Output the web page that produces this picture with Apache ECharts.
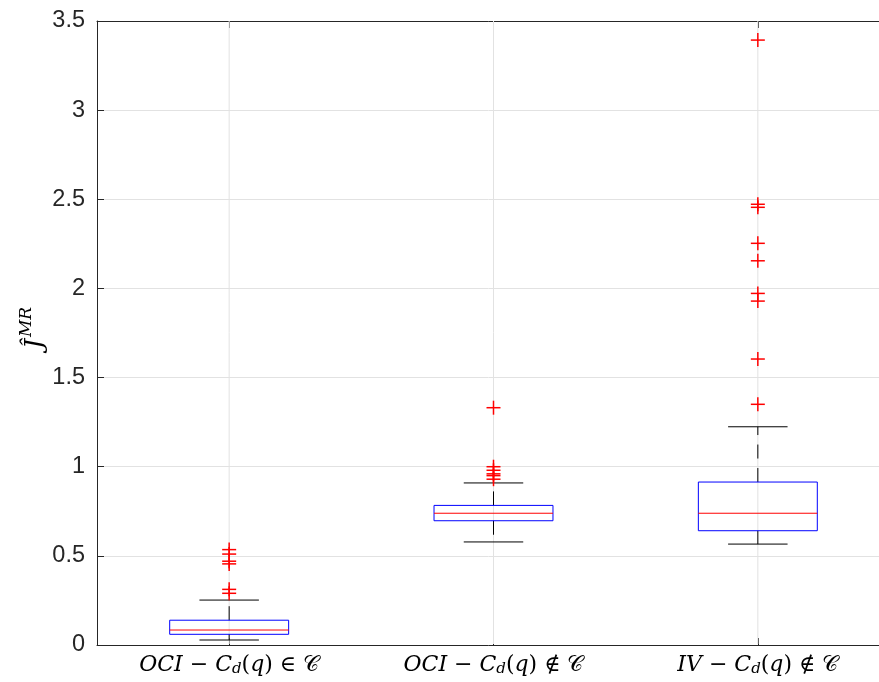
<!DOCTYPE html>
<html>
<head>
<meta charset="utf-8">
<script src="https://cdn.jsdelivr.net/npm/echarts@6/dist/echarts.min.js"></script>
<style>
  html, body { margin: 0; padding: 0; background: #fff; }
  #chart { width: 879px; height: 682px; }
</style>
</head>
<body>
<div id="chart"></div>
<script>
// Group keys and their (LaTeX-style) tick labels
const categories = ['OCI-in', 'OCI-notin', 'IV-notin'];
const tickLabels = [
  '{i|OCI}{r| − }{i|C}{sub|d}{r|(}{i|q}{r|) ∈ }{cal|𝒞}',
  '{i|OCI}{r| − }{i|C}{sub|d}{r|(}{i|q}{r|) ∉ }{cal|𝒞}',
  '{i|IV}{r| − }{i|C}{sub|d}{r|(}{i|q}{r|) ∉ }{cal|𝒞}'
];

// Five-number summaries per group
const lowerWhisker = [0.028, 0.578, 0.566];
const q1 = [0.060, 0.697, 0.641];
const median = [0.084, 0.739, 0.739];
const q3 = [0.139, 0.783, 0.914];
const upperWhisker = [0.252, 0.909, 1.224];

// Points beyond the whiskers
const outliersOCIin = [0.535, 0.510, 0.470, 0.455, 0.312, 0.290];
const outliersOCInotin = [1.331, 1.000, 0.980, 0.960, 0.950, 0.930];
const outliersIVnotin = [3.393, 2.472, 2.455, 2.253, 2.155, 1.972, 1.929, 1.604, 1.350];

// y-axis tick settings
const yMin = 0, yMax = 3.5, yStep = 0.5;

const AXIS_COLOR = '#262626';
const GRID_COLOR = '#e2e2e2';
const SERIF = 'DejaVu Serif';

const boxData = categories.map((c, i) => [i, lowerWhisker[i], q1[i], median[i], q3[i], upperWhisker[i]]);
const outlierData = [];
[outliersOCIin, outliersOCInotin, outliersIVnotin].forEach((arr, i) => {
  arr.forEach(v => outlierData.push([i, v]));
});

const labelRich = {
  i: { fontFamily: SERIF, fontStyle: 'italic', fontSize: 22, color: '#000' },
  r: { fontFamily: SERIF, fontSize: 22, color: '#000' },
  sub: { fontFamily: SERIF, fontStyle: 'italic', fontSize: 15, color: '#000', padding: [9, 0, 0, 0] },
  cal: { fontFamily: SERIF, fontSize: 22, color: '#000' }
};

const chart = echarts.init(document.getElementById('chart'), null, { renderer: 'canvas' });

chart.setOption({
  animation: false,
  backgroundColor: '#fff',
  // the plot box runs past the right edge of the canvas
  grid: { left: 97, top: 21, bottom: 37, width: 793, containLabel: false, outerBoundsMode: 'none' },
  xAxis: [
    {
      type: 'category',
      data: categories,
      position: 'bottom',
      boundaryGap: true,
      axisLine: { show: true, lineStyle: { color: AXIS_COLOR, width: 1 } },
      axisTick: { show: true, inside: true, alignWithLabel: true, length: 7, lineStyle: { color: AXIS_COLOR } },
      axisLabel: {
        interval: 0,
        hideOverlap: false,
        margin: 8,
        formatter: (v, idx) => tickLabels[idx],
        rich: labelRich
      },
      splitLine: { show: false }
    },
    {
      type: 'category',
      data: categories,
      position: 'top',
      boundaryGap: true,
      axisLine: { show: true, lineStyle: { color: AXIS_COLOR, width: 1 } },
      axisTick: { show: true, inside: true, alignWithLabel: true, length: 7, lineStyle: { color: AXIS_COLOR } },
      axisLabel: { show: false },
      splitLine: { show: false }
    }
  ],
  yAxis: {
    type: 'value',
    min: yMin,
    max: yMax,
    interval: yStep,
    axisLine: { show: true, lineStyle: { color: AXIS_COLOR, width: 1 } },
    axisTick: { show: true, inside: true, length: 7, lineStyle: { color: AXIS_COLOR } },
    axisLabel: {
      margin: 12,
      color: AXIS_COLOR,
      fontFamily: 'Liberation Sans',
      fontSize: 23.5,
      formatter: v => String(v)
    },
    splitLine: { show: true, lineStyle: { color: GRID_COLOR, width: 1 } }
  },
  graphic: [
    {
      type: 'text',
      x: 33,
      y: 328,
      rotation: Math.PI / 2,
      style: {
        text: '{j|Ĵ}{s|MR}',
        align: 'center',
        verticalAlign: 'middle',
        rich: {
          j: { fontFamily: SERIF, fontStyle: 'italic', fontSize: 25, fill: '#000', verticalAlign: 'bottom' },
          s: { fontFamily: SERIF, fontStyle: 'italic', fontSize: 17, fill: '#000', verticalAlign: 'bottom', padding: [0, 0, 13, 2] }
        }
      }
    }
  ],
  series: [
    {
      // vertical grid lines at each group
      type: 'custom',
      name: 'xgrid',
      silent: true,
      z: 1,
      data: categories.map((c, i) => [i]),
      renderItem: (params, api) => {
        const cs = params.coordSys;
        const p = api.coord([api.value(0), 0]);
        return {
          type: 'line',
          shape: { x1: p[0], y1: cs.y, x2: p[0], y2: cs.y + cs.height - 1 },
          style: { stroke: GRID_COLOR, lineWidth: 1 }
        };
      }
    },
    {
      type: 'custom',
      name: 'boxes',
      z: 3,
      data: boxData,
      encode: { x: 0, y: [1, 2, 3, 4, 5] },
      renderItem: (params, api) => {
        const i = api.value(0);
        const band = api.size([1, 0])[0];
        const boxW = band * 0.45;
        const capW = boxW * 0.5;
        const pLW = api.coord([i, api.value(1)]);
        const pQ1 = api.coord([i, api.value(2)]);
        const pMed = api.coord([i, api.value(3)]);
        const pQ3 = api.coord([i, api.value(4)]);
        const pUW = api.coord([i, api.value(5)]);
        const cx = pMed[0];
        const whiskerStyle = { stroke: '#000', lineWidth: 1, lineDash: [14, 9.5] };
        const capStyle = { stroke: '#000', lineWidth: 1 };
        return {
          type: 'group',
          children: [
            { type: 'line', shape: { x1: cx, y1: pQ3[1], x2: cx, y2: pUW[1] }, style: whiskerStyle },
            { type: 'line', shape: { x1: cx, y1: pQ1[1], x2: cx, y2: pLW[1] }, style: whiskerStyle },
            { type: 'line', shape: { x1: cx - capW / 2, y1: pUW[1], x2: cx + capW / 2, y2: pUW[1] }, style: capStyle },
            { type: 'line', shape: { x1: cx - capW / 2, y1: pLW[1], x2: cx + capW / 2, y2: pLW[1] }, style: capStyle },
            {
              type: 'rect',
              shape: { x: cx - boxW / 2, y: pQ3[1], width: boxW, height: pQ1[1] - pQ3[1] },
              style: { fill: 'none', stroke: '#0000ff', lineWidth: 1 }
            },
            { type: 'line', shape: { x1: cx - boxW / 2, y1: pMed[1], x2: cx + boxW / 2, y2: pMed[1] }, style: { stroke: '#ff0000', lineWidth: 1 } }
          ]
        };
      }
    },
    {
      type: 'custom',
      name: 'outliers',
      z: 4,
      data: outlierData,
      encode: { x: 0, y: 1 },
      renderItem: (params, api) => {
        const p = api.coord([api.value(0), api.value(1)]);
        const h = 7;
        const st = { stroke: '#ff0000', lineWidth: 1.5 };
        return {
          type: 'group',
          children: [
            { type: 'line', shape: { x1: p[0] - h, y1: p[1], x2: p[0] + h, y2: p[1] }, style: st },
            { type: 'line', shape: { x1: p[0], y1: p[1] - h, x2: p[0], y2: p[1] + h }, style: st }
          ]
        };
      }
    }
  ]
});
</script>
</body>
</html>
